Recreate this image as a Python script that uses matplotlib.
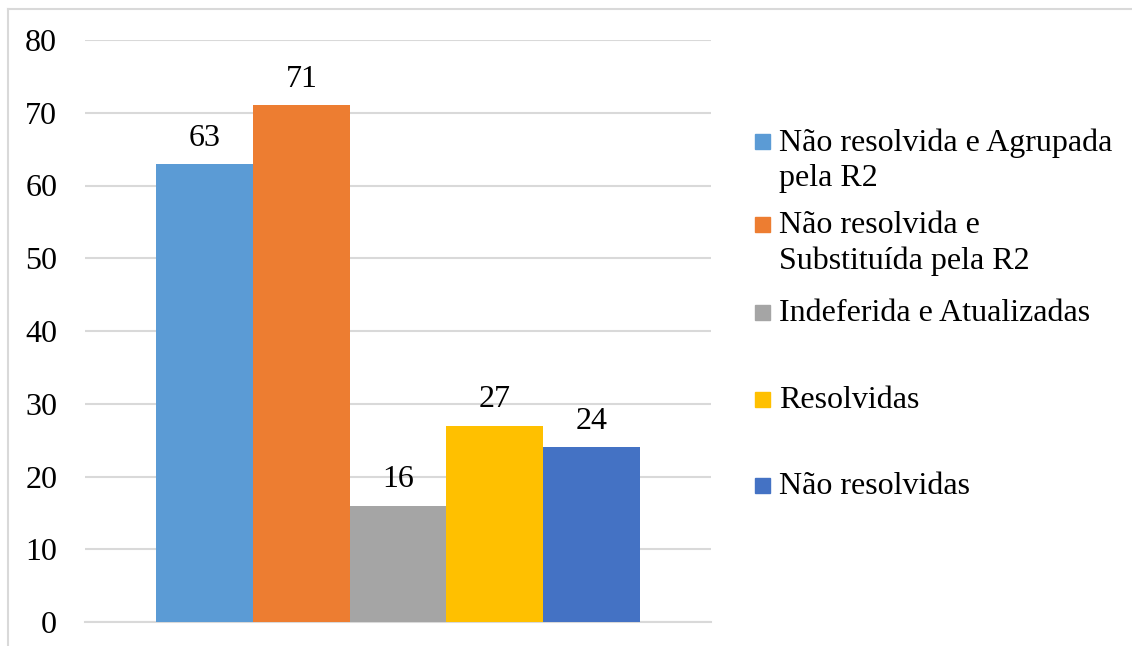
import matplotlib.pyplot as plt
from matplotlib.patches import Rectangle
from matplotlib.lines import Line2D

# Data
categorias = ['Não resolvida e Agrupada\npela R2',
              'Não resolvida e\nSubstituída pela R2',
              'Indeferida e Atualizadas',
              'Resolvidas',
              'Não resolvidas']
valores = [63, 71, 16, 27, 24]
cores = ['#5B9BD5', '#ED7D31', '#A5A5A5', '#FFC000', '#4472C4']
y_ticks = [0, 10, 20, 30, 40, 50, 60, 70, 80]

plt.rcParams['font.family'] = ['Liberation Serif', 'DejaVu Serif']

W, H = 1132, 646
fig = plt.figure(figsize=(W / 100, H / 100), dpi=100)

# Outer chart frame (only left and top edges fall inside the image)
fig.add_artist(Line2D([8 / W, 8 / W], [0, 1 - 9 / H], transform=fig.transFigure,
                      color='#d9d9d9', linewidth=1.5))
fig.add_artist(Line2D([8 / W, 1], [1 - 9 / H, 1 - 9 / H], transform=fig.transFigure,
                      color='#d9d9d9', linewidth=1.5))

ax = fig.add_axes([85 / W, 1 - 622 / H, (711 - 85) / W, (622 - 40) / H])

posicoes = [i - 2 for i in range(len(valores))]
barras = ax.bar(posicoes, valores, width=1.0, color=cores, zorder=3)
ax.bar_label(barras, labels=[str(v) for v in valores], padding=8, fontsize=23)

ax.set_xlim(-3.24, 3.24)
ax.set_ylim(0, 80)
ax.set_yticks(y_ticks)
ax.set_yticklabels([str(t) for t in y_ticks], fontsize=23)
ax.set_xticks([])
ax.tick_params(axis='y', length=0, pad=20)
ax.yaxis.grid(True, color='#d9d9d9', linewidth=1.5, zorder=0)
for lado in ['top', 'right', 'left']:
    ax.spines[lado].set_visible(False)
ax.spines['bottom'].set_color('#d9d9d9')
ax.spines['bottom'].set_linewidth(1.5)

# Legend on the right
leg_y = [142, 225, 313, 400, 486]
for rotulo, cor, y in zip(categorias, cores, leg_y):
    fig.patches.append(Rectangle((755 / W, 1 - (y + 7) / H), 15 / W, 15 / H,
                                 transform=fig.transFigure, color=cor))
    fig.text(779 / W, 1 - (y - 14) / H, rotulo, fontsize=23, va='top',
             ha='left', linespacing=1.3)

fig.savefig('out.png', dpi=100)
